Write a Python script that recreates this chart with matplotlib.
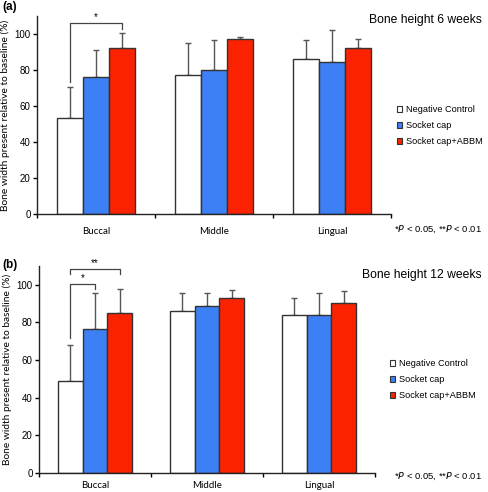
import matplotlib.pyplot as plt
import numpy as np
from matplotlib.patches import Patch

plt.rcParams['font.family'] = ['Liberation Sans', 'DejaVu Sans']

sites = ['Buccal', 'Middle', 'Lingual']
groups = ['Negative Control', 'Socket cap', 'Socket cap+ABBM']
colors = ['white', '#3d7ff5', '#fa2200']

# 6 weeks
neg_6 = [53.3, 77.5, 85.9]
neg_6_sd = [17.4, 17.5, 10.7]
cap_6 = [76.2, 79.8, 84.4]
cap_6_sd = [14.7, 16.8, 18.0]
abbm_6 = [92.5, 97.2, 92.5]
abbm_6_sd = [8.0, 1.1, 4.7]

# 12 weeks
neg_12 = [49.0, 86.2, 83.9]
neg_12_sd = [19.1, 9.2, 9.2]
cap_12 = [76.5, 88.5, 83.9]
cap_12_sd = [18.9, 6.9, 11.5]
abbm_12 = [85.1, 93.1, 90.3]
abbm_12_sd = [12.8, 4.2, 6.4]

W, H = 489, 492
fig = plt.figure(figsize=(W / 100, H / 100), dpi=100)


def px_axes(left, right, bottom_px, top_px):
    return fig.add_axes([left / W, 1 - bottom_px / H, (right - left) / W, (bottom_px - top_px) / H])


def draw_panel(ax, means, sds, pad):
    x = np.arange(len(sites)) + 0.5
    w = 0.22
    for i, (m, s) in enumerate(zip(means, sds)):
        xi = x + (i - 1) * w
        ax.bar(xi, m, w, color=colors[i], edgecolor='#333333', linewidth=1.0, zorder=2)
        ax.errorbar(xi, m, yerr=[np.zeros(len(s)), s], fmt='none', ecolor='#555555',
                    elinewidth=1.0, capsize=2.5, capthick=1.0, zorder=1)
    ax.set_xlim(0, 3)
    ax.set_ylim(0, 110)
    ax.set_yticks([0, 20, 40, 60, 80, 100])
    ax.tick_params(axis='y', labelsize=7, length=3, width=1, pad=1.5)
    ax.set_xticks([0, 1, 2, 3])
    ax.set_xticklabels([])
    ax.tick_params(axis='x', length=3, width=1)
    ax.set_xticks(x, minor=True)
    ax.set_xticklabels(sites, minor=True, fontsize=7, family=['Lato', 'DejaVu Sans'])
    ax.tick_params(axis='x', which='minor', length=0, pad=pad)
    for sp in ['top', 'right']:
        ax.spines[sp].set_visible(False)
    for sp in ['left', 'bottom']:
        ax.spines[sp].set_linewidth(1.0)
        ax.spines[sp].set_color('#222222')
    ax.set_ylabel('Bone width present relative to baseline (%)', fontsize=7.3,
                  family=['Lato', 'DejaVu Sans'], labelpad=3)
    return x, w


def bracket(ax, x1, x2, top, y1, y2, text):
    ax.plot([x1, x1, x2, x2], [y1, top, top, y2], color='#444444', lw=0.9, zorder=3)
    ax.text((x1 + x2) / 2, top + 0.5, text, ha='center', va='bottom', fontsize=7)


handles = [Patch(facecolor=c, edgecolor='#333333', linewidth=0.8) for c in colors]
leg_kw = dict(loc='upper left', frameon=False, fontsize=6.6, handlelength=0.55,
              handleheight=0.55, handletextpad=0.45, labelspacing=0.78,
              borderaxespad=0, borderpad=0)

# panel a
ax1 = px_axes(37, 391, 214, 16)
x, w = draw_panel(ax1, [neg_6, cap_6, abbm_6], [neg_6_sd, cap_6_sd, abbm_6_sd], 9)
bracket(ax1, x[0] - w, x[0] + w, 106, 73.5, 103, '*')
fig.text(2 / W, 1 - 7 / H, '(a)', fontsize=8.5, fontweight='bold', va='center')
fig.text(482 / W, 1 - 20 / H, 'Bone height 6 weeks', fontsize=8.7, ha='right', va='center')
fig.text(482 / W, 1 - 229 / H, '*$P$ < 0.05, **$P$ < 0.01', fontsize=6.8, ha='right', va='center')
fig.legend(handles, groups, bbox_to_anchor=(397 / W, 1 - 105 / H), **leg_kw)

# panel b
ax2 = px_axes(39, 375, 473, 266)
x, w = draw_panel(ax2, [neg_12, cap_12, abbm_12], [neg_12_sd, cap_12_sd, abbm_12_sd], 6)
bracket(ax2, x[0] - w, x[0], 100.5, 72, 98, '*')
bracket(ax2, x[0] - w, x[0] + w, 108.5, 105.5, 105.5, '**')
fig.text(2 / W, 1 - 265 / H, '(b)', fontsize=8.5, fontweight='bold', va='center')
fig.text(482 / W, 1 - 275 / H, 'Bone height 12 weeks', fontsize=8.7, ha='right', va='center')
fig.text(482 / W, 1 - 476 / H, '*$P$ < 0.05, **$P$ < 0.01', fontsize=6.8, ha='right', va='center')
fig.legend(handles, groups, bbox_to_anchor=(390 / W, 1 - 359 / H), **leg_kw)

fig.savefig('out.png', dpi=100)
